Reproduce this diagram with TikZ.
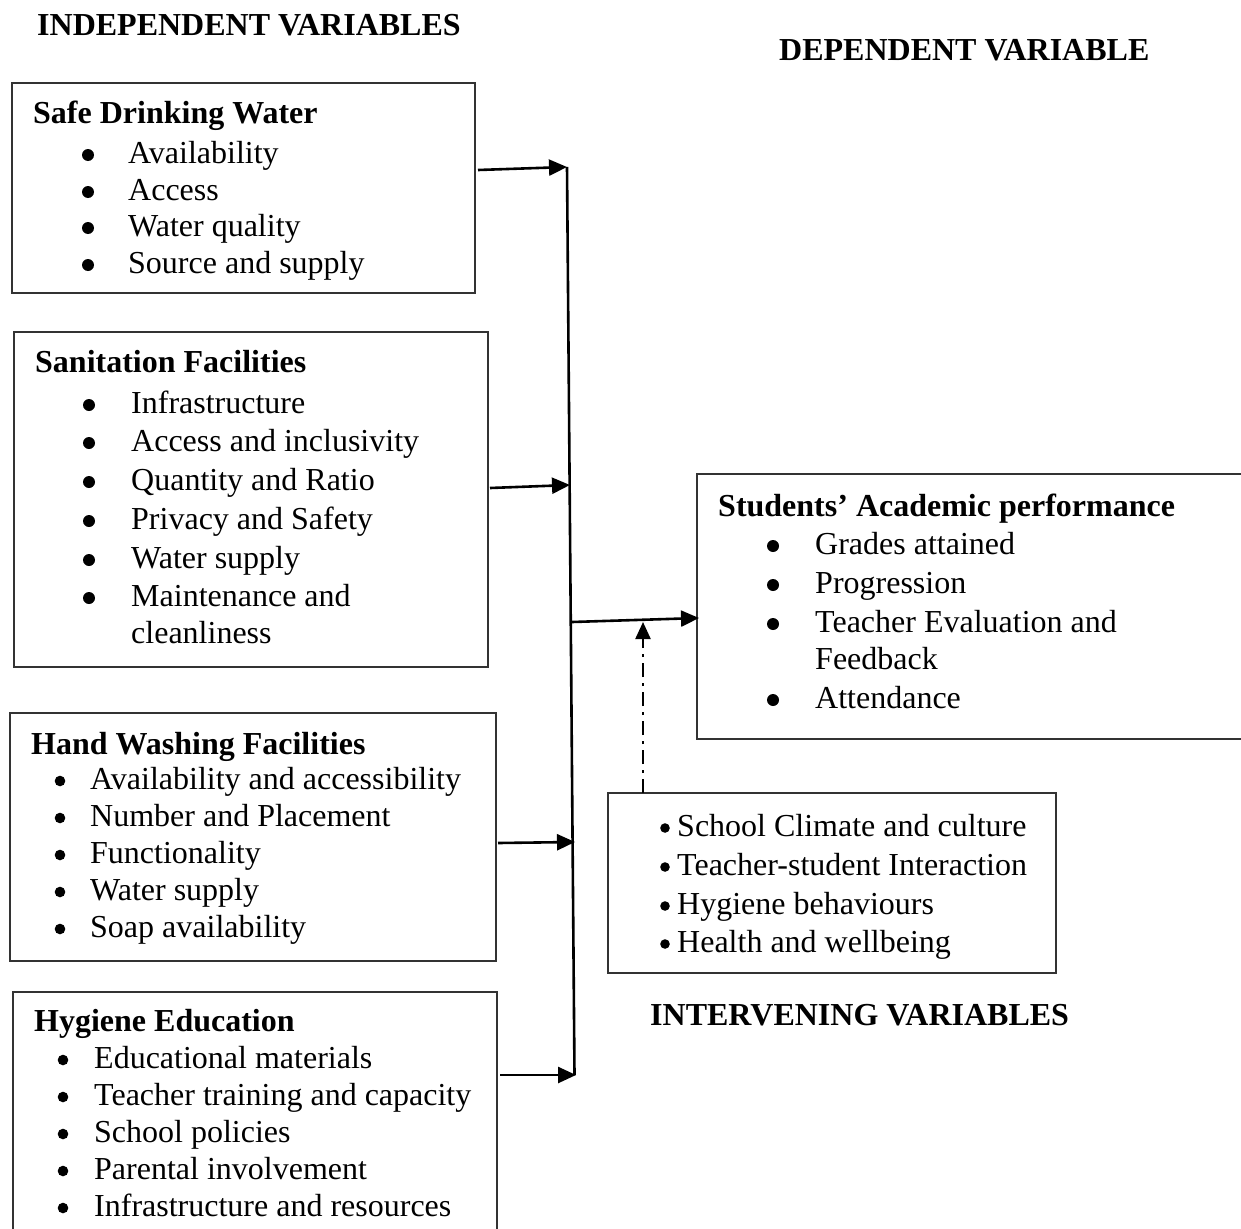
\documentclass[tikz,border=0pt]{standalone}
\usepackage{fontspec}
\setmainfont{Liberation Serif}
\usetikzlibrary{arrows.meta}
\newcommand\bitem[6]{\fill (#2,#4-8) circle (#6pt); \node[txt] (#1) at (#3,#4) {#5};}
\newcommand\citem[4]{\node[txt] (#1) at (#2,#3) {#4};}
\begin{document}
\begin{tikzpicture}[x=1pt,y=-1pt,
  box/.style={draw=black!80, line width=1.4pt, inner sep=0pt, outer sep=0pt, anchor=north west},
  txt/.style={inner sep=0pt, anchor=base west, font=\fontsize{32}{37}\selectfont},
  ttl/.style={inner sep=0pt, anchor=base west, font=\fontsize{32}{37}\selectfont\bfseries},
  arr/.style={line width=2.6pt, -{Triangle[length=18pt,width=16pt]}},
  darr/.style={line width=2.2pt, dash pattern=on 14pt off 6pt on 3pt off 6pt, -{Triangle[length=17pt,width=15pt]}}]
\useasboundingbox (0,0) rectangle (1241,1228);
\clip (0,0) rectangle (1241,1228);

% headers
\node[ttl] (hind) at (37,36) {INDEPENDENT VARIABLES};
\node[ttl] (hdep) at (779,61) {DEPENDENT VARIABLE};
\node[ttl] (hint) at (650,1025) {INTERVENING VARIABLES};

% boxes
\node[box, minimum width=463pt, minimum height=210pt] (b1) at (12,83) {};
\node[box, minimum width=474pt, minimum height=335pt] (b2) at (14,332) {};
\node[box, minimum width=486pt, minimum height=248pt] (b3) at (10,713) {};
\node[box, minimum width=484pt, minimum height=260pt] (b4) at (13,992) {};
\node[box, minimum width=570pt, minimum height=265pt] (dep) at (697,474) {};
\node[box, minimum width=448pt, minimum height=180pt] (int) at (608,793) {};

% box 1
\node[ttl] (t1) at (33,124) {Safe Drinking Water};
\bitem{b1i1}{88}{128}{163}{Availability}{6}
\bitem{b1i2}{88}{128}{200}{Access}{6}
\bitem{b1i3}{88}{128}{236}{Water quality}{6}
\bitem{b1i4}{88}{128}{273}{Source and supply}{6}

% box 2
\node[ttl] (t2) at (35,372) {Sanitation Facilities};
\bitem{b2i1}{89}{131}{413}{Infrastructure}{6}
\bitem{b2i2}{89}{131}{451}{Access and inclusivity}{6}
\bitem{b2i3}{89}{131}{490}{Quantity and Ratio}{6}
\bitem{b2i4}{89}{131}{529}{Privacy and Safety}{6}
\bitem{b2i5}{89}{131}{568}{Water supply}{6}
\bitem{b2i6}{89}{131}{606}{Maintenance and}{6}
\citem{b2i7}{131}{643}{cleanliness}

% box 3
\node[ttl] (t3) at (31,754) {Hand Washing Facilities};
\bitem{b3i1}{60}{90}{789}{Availability and accessibility}{5.3}
\bitem{b3i2}{60}{90}{826}{Number and Placement}{5.3}
\bitem{b3i3}{60}{90}{863}{Functionality}{5.3}
\bitem{b3i4}{60}{90}{900}{Water supply}{5.3}
\bitem{b3i5}{60}{90}{937}{Soap availability}{5.3}

% box 4
\node[ttl] (t4) at (34,1031) {Hygiene Education};
\bitem{b4i1}{63}{94}{1068}{Educational materials}{5.3}
\bitem{b4i2}{63}{94}{1105}{Teacher training and capacity}{5.3}
\bitem{b4i3}{63}{94}{1142}{School policies}{5.3}
\bitem{b4i4}{63}{94}{1179}{Parental involvement}{5.3}
\bitem{b4i5}{63}{94}{1216}{Infrastructure and resources}{5.3}

% dependent
\node[ttl] (td) at (718,516) {Students’ Academic performance};
\bitem{di1}{773}{815}{554}{Grades attained}{6}
\bitem{di2}{773}{815}{593}{Progression}{6}
\bitem{di3}{773}{815}{632}{Teacher Evaluation and}{6}
\citem{di4}{815}{669}{Feedback}
\bitem{di5}{773}{815}{708}{Attendance}{6}

% intervening
\bitem{ii1}{665}{677}{836}{School Climate and culture}{4.8}
\bitem{ii2}{665}{677}{875}{Teacher-student Interaction}{4.8}
\bitem{ii3}{665}{677}{914}{Hygiene behaviours}{4.8}
\bitem{ii4}{665}{677}{952}{Health and wellbeing}{4.8}

% connector coordinates
\coordinate (vtop) at (567,167);
\coordinate (vbot) at (574.5,1075);
\coordinate (s1) at (478,170);
\coordinate (s2) at (490,488);
\coordinate (e2) at (570,485);
\coordinate (s3) at (572,622);
\coordinate (e3) at (699,618);
\coordinate (s4) at (498,843);
\coordinate (e4) at (575,842);
\coordinate (s5) at (500,1075);
\coordinate (e5) at (576,1075);
\coordinate (ds) at (643,793);
\coordinate (de) at (643,622);

\draw[line width=2.6pt] (vtop) -- (vbot);
\draw[arr] (s1) -- (vtop);
\draw[arr] (s2) -- (e2);
\draw[arr] (s3) -- (e3);
\draw[arr] (s4) -- (e4);
\draw[arr] (s5) -- (e5);
\draw[darr] (ds) -- (de);
\end{tikzpicture}
\end{document}
